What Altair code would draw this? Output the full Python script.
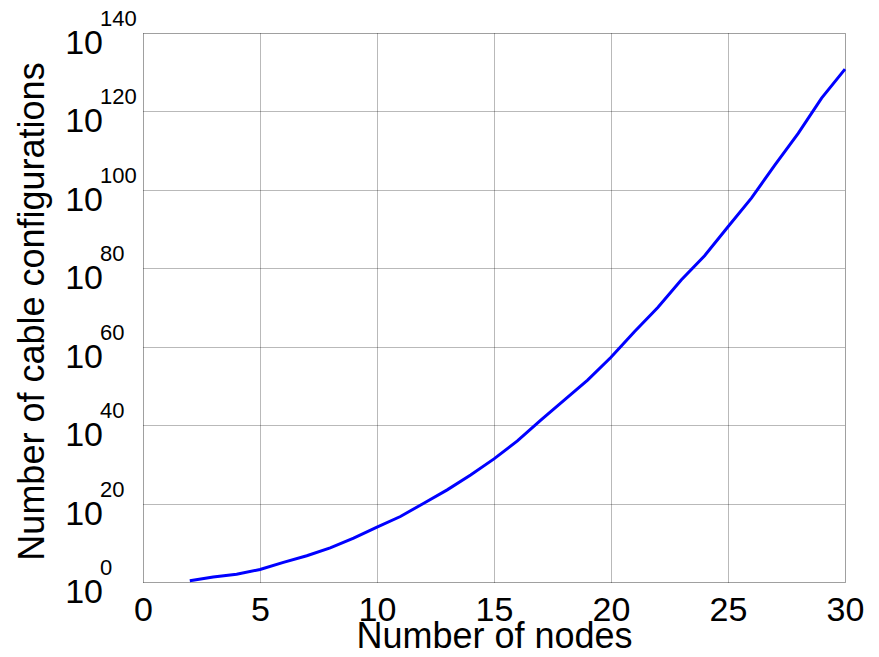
import altair as alt
import pandas as pd

# Data
nodes = list(range(2, 31))
log10_configs = [0.3, 1.3, 2.0, 3.2, 5.0, 6.7, 8.7, 11.2, 14.0, 16.7, 20.1, 23.5,
                 27.3, 31.4, 36.0, 41.3, 46.4, 51.5, 57.3, 63.8, 70.0, 77.0, 83.2,
                 90.6, 97.9, 106.3, 114.4, 123.4, 130.8]
x_ticks = [0, 5, 10, 15, 20, 25, 30]
y_tick_exponents = [0, 20, 40, 60, 80, 100, 120, 140]

FONT = "Liberation Sans"

df = pd.DataFrame({"n": nodes, "value": [10.0 ** e for e in log10_configs]})
ticks_df = pd.DataFrame({
    "value": [10.0 ** e for e in y_tick_exponents],
    "base": ["10"] * len(y_tick_exponents),
    "exp": [str(e) for e in y_tick_exponents],
})

y_scale = alt.Scale(type="log", domain=[1, 1e140], nice=False)
x_scale = alt.Scale(domain=[0, 30], nice=False)

line = alt.Chart(df).mark_line(color="#0000FF", strokeWidth=3).encode(
    x=alt.X("n:Q", scale=x_scale,
            axis=alt.Axis(values=x_ticks, title="Number of nodes", grid=True,
                          domain=False, ticks=False, tickSize=0,
                          labelFont=FONT, labelFontSize=34, labelColor="black",
                          labelBaseline="alphabetic", labelPadding=38,
                          labelFlush=False, labelOverlap=False,
                          titleFont=FONT, titleFontSize=36, titleFontWeight="normal",
                          titleColor="black", titleBaseline="alphabetic",
                          titleX=351, titleY=65,
                          gridColor="#000000", gridOpacity=0.55, gridDash=[1, 1])),
    y=alt.Y("value:Q", scale=y_scale,
            axis=alt.Axis(values=[10.0 ** e for e in y_tick_exponents],
                          title="Number of cable configurations", grid=True,
                          domain=False, ticks=False, tickSize=0, labels=False,
                          titleFont=FONT, titleFontSize=36, titleFontWeight="normal",
                          titleColor="black", titleBaseline="alphabetic",
                          titleAngle=270, titleAlign="center",
                          titleX=-100, titleY=278,
                          gridColor="#000000", gridOpacity=0.55, gridDash=[1, 1])),
)

base_txt = alt.Chart(ticks_df).mark_text(
    font=FONT, fontSize=34, align="right", baseline="alphabetic", dy=21, color="black"
).encode(
    x=alt.value(-40),
    y=alt.Y("value:Q", scale=y_scale),
    text="base:N",
)

exp_txt = alt.Chart(ticks_df).mark_text(
    font=FONT, fontSize=22, align="left", baseline="alphabetic", dy=-7, color="black"
).encode(
    x=alt.value(-43),
    y=alt.Y("value:Q", scale=y_scale),
    text="exp:N",
)

chart = alt.layer(line, base_txt, exp_txt).properties(
    width=702, height=549,
    padding={"left": 135, "top": 25, "right": 20, "bottom": 67},
    autosize=alt.AutoSizeParams(type="none"),
).configure_view(stroke=None).configure(background="white")

chart.save("out.html", embed_options={"renderer": "svg", "actions": False})
